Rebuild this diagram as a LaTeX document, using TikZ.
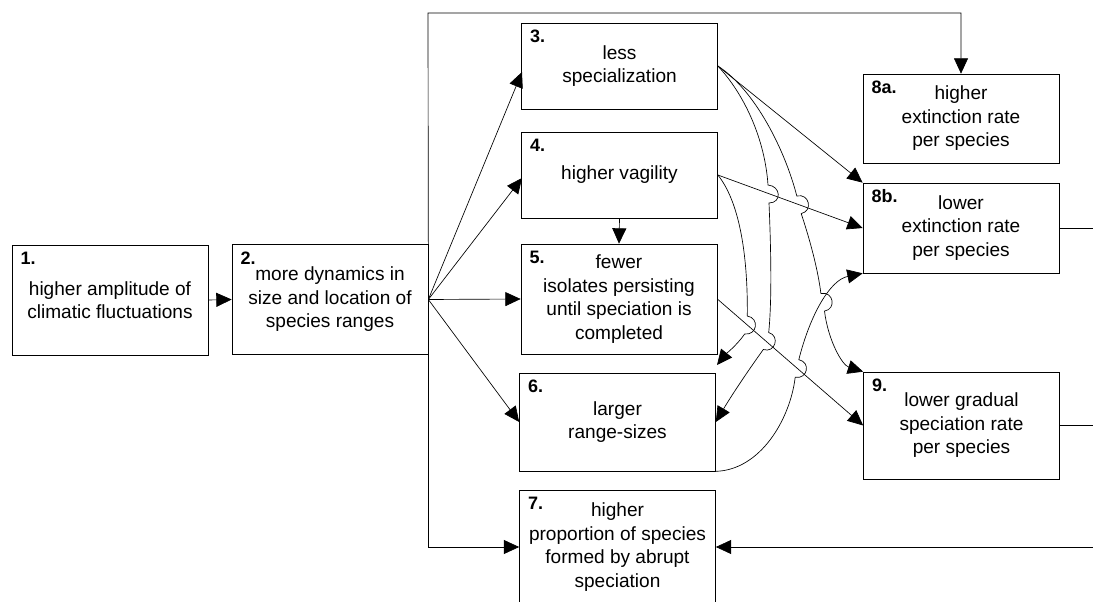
\documentclass[tikz,border=0pt]{standalone}
\usepackage{fontspec}
\setmainfont{Liberation Sans}
\usetikzlibrary{arrows.meta}

\tikzset{
  box/.style={draw, line width=0.5pt, minimum width=147pt, align=center,
    font=\fontsize{14.3}{17.6}\selectfont, inner sep=2pt},
  num/.style={label={[anchor=north west, inner sep=0pt, xshift=6.5pt, yshift=-5pt,
    font=\fontsize{13.5}{14}\selectfont\bfseries]north west:#1}},
  arr/.style={-{Triangle[length=11.5pt,width=10.5pt]}},
}

\begin{document}
\begin{tikzpicture}[x=0.75pt,y=0.75pt,yscale=-1,xscale=1,line width=0.5pt]
\useasboundingbox (0,0) rectangle (1093,602);

% boxes
\node[box, num=1., minimum height=82.5pt] (b1) at (110,300) {higher amplitude of\\climatic fluctuations};
\node[box, num=2., minimum height=82pt] (b2) at (330,299.5) {more dynamics in\\size and location of\\species ranges};
\node[box, num=3., minimum height=64.5pt] (b3) at (619.5,66) {less\\specialization};
\node[box, num=4., minimum height=64.5pt] (b4) at (619.5,175) {higher vagility};
\node[box, num=5., minimum height=82.5pt] (b5) at (619,299) {fewer\\isolates persisting\\until speciation is\\completed};
\node[box, num=6., minimum height=73.5pt] (b6) at (617.5,422) {larger\\range-sizes};
\node[box, num=7., minimum height=85.5pt] (b7) at (617.5,547) {higher\\proportion of species\\formed by abrupt\\speciation};
\node[box, num=8a., minimum height=66.75pt] (b8a) at (961,118.5) {higher\\extinction rate\\per species};
\node[box, num=8b., minimum height=67.5pt] (b8b) at (961,228) {lower\\extinction rate\\per species};
\node[box, num=9., minimum height=80.25pt] (b9) at (961.5,425.5) {lower gradual\\speciation rate\\per species};

% helper points
\coordinate (hub) at (b2.east);
\coordinate (top) at (428,13);
\coordinate (in3) at (522,72);
\coordinate (in4) at (522,178);
\coordinate (c4end) at (717,365);
\coordinate (e8) at (1093,228);
\coordinate (e9) at (1093,425.5);
\coordinate (e7) at (1093,547);

% straight connectors
\draw[arr] (b1.east) -- (b2.west);
\draw[arr] (hub) -- (in3);
\draw[arr] (hub) -- (in4);
\draw[arr] (hub) -- (b5.west);
\draw[arr] (hub) -- (b6.west);
\draw[arr] (b2.north east) -- (top) -| (b8a.north);
\draw[arr] (b2.south east) |- (b7.west);
\draw[arr] (b4.south) -- (b5.north);
\draw[arr] (b3.east) -- (b8b.north west);
\draw[arr] (b4.east) -- (b8b.west);
\draw[arr] (b5.east) -- (b9.west);
\draw (b8b.east) -- (e8);
\draw (b9.east) -- (e9);
\draw[arr] (e7) -- (b7.east);

% curved connectors with jumps
\draw[arr] (b3.east) .. controls (745,95) and (765,140) .. (768,185)
  .. controls (781,186) and (782,203) .. (769,203)
  .. controls (771,250) and (772,300) .. (768.7,332.5)
  .. controls (780.5,336) and (775,353.5) .. (763.3,349.5)
  .. controls (745,375) and (730,398) .. (b6.east);
\draw[arr] (b4.east) .. controls (738,200) and (748,250) .. (747.3,316)
  .. controls (759.7,318) and (757.3,335.5) .. (744.7,334)
  .. controls (737,345) and (725,355) .. (c4end);
\draw[arr] (b3.east) .. controls (755,90) and (785,150) .. (796.8,196)
  .. controls (809.3,193) and (813.3,211) .. (801.2,213.6)
  .. controls (810,240) and (818,270) .. (820.9,293.5)
  .. controls (833.5,291) and (836.7,309) .. (824.5,311.1)
  .. controls (828,340) and (842,365) .. (b9.north west);
\draw[arr] (b6.south east) .. controls (760,470) and (790,420) .. (795.2,377.3)
  .. controls (807.8,379.4) and (811,362) .. (798.8,359.7)
  .. controls (810,315) and (830,280) .. (b8b.south west);
\end{tikzpicture}
\end{document}
